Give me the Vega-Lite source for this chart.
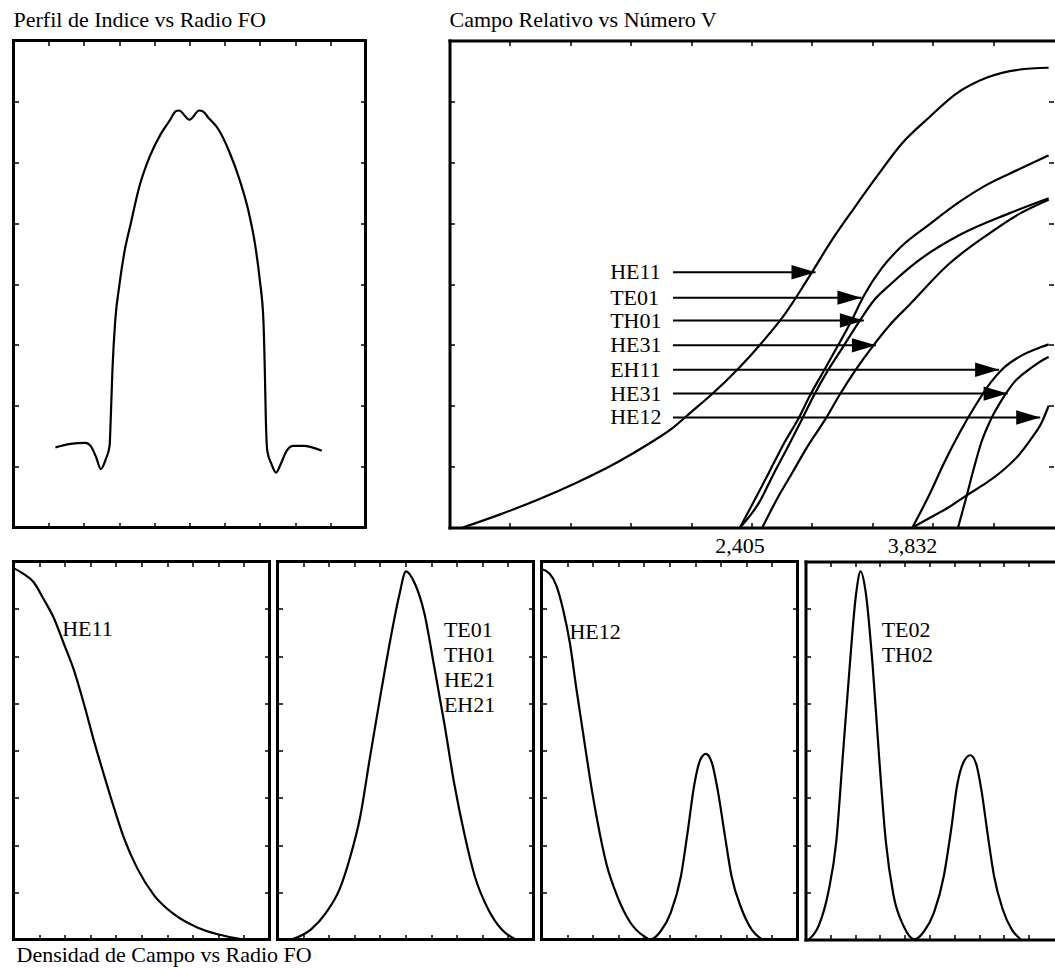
{
  "$schema": "https://vega.github.io/schema/vega-lite/v6.json",
  "background": "white",
  "padding": {"left": 10.5, "top": 6.5, "right": 0, "bottom": 0},
  "config": {
    "font": "Liberation Serif",
    "view": {"stroke": "black", "strokeWidth": 3},
    "axis": {"labels": false, "grid": false, "domain": false, "ticks": true, "tickSize": -5, "tickColor": "black", "tickWidth": 1.5, "domainColor": "black", "domainWidth": 3, "domainCap": "square", "minExtent": 0, "maxExtent": 0},
    "title": {"font": "Liberation Serif", "fontSize": 22, "fontWeight": "normal", "color": "black", "anchor": "start", "frame": "group"},
    "text": {"font": "Liberation Serif", "fontSize": 22, "color": "black"},
    "line": {"color": "black", "strokeWidth": 2.2, "strokeJoin": "round"}
  },
  "datasets": {
    "profile": [
      {"r": -3.81, "n": 1.315}, {"r": -3.43, "n": 1.37}, {"r": -2.95, "n": 1.39}, {"r": -2.81, "n": 1.34}, {"r": -2.65, "n": 1.15}, {"r": -2.52, "n": 0.96}, {"r": -2.38, "n": 1.12}, {"r": -2.27, "n": 1.34}, {"r": -2.24, "n": 1.75}, {"r": -2.19, "n": 2.58}, {"r": -2.11, "n": 3.4}, {"r": -2.0, "n": 3.95}, {"r": -1.86, "n": 4.49}, {"r": -1.67, "n": 4.99}, {"r": -1.43, "n": 5.59}, {"r": -1.14, "n": 6.08}, {"r": -0.81, "n": 6.47}, {"r": -0.57, "n": 6.68}, {"r": -0.38, "n": 6.84}, {"r": -0.3, "n": 6.85}, {"r": 0.0, "n": 6.7}, {"r": 0.28, "n": 6.85}, {"r": 0.36, "n": 6.84}, {"r": 0.57, "n": 6.71}, {"r": 0.81, "n": 6.55}, {"r": 1.14, "n": 6.16}, {"r": 1.43, "n": 5.7}, {"r": 1.67, "n": 5.21}, {"r": 1.86, "n": 4.66}, {"r": 2.0, "n": 4.05}, {"r": 2.1, "n": 3.4}, {"r": 2.14, "n": 2.58}, {"r": 2.17, "n": 1.75}, {"r": 2.21, "n": 1.26}, {"r": 2.33, "n": 1.04}, {"r": 2.46, "n": 0.9}, {"r": 2.59, "n": 1.04}, {"r": 2.76, "n": 1.26}, {"r": 2.95, "n": 1.34}, {"r": 3.24, "n": 1.34}, {"r": 3.76, "n": 1.26}
    ],
    "modes": [
      {"m": "HE11", "v": 0.11, "b": 0}, {"m": "HE11", "v": 0.42, "b": 0.027}, {"m": "HE11", "v": 0.74, "b": 0.058}, {"m": "HE11", "v": 1.06, "b": 0.093}, {"m": "HE11", "v": 1.39, "b": 0.134}, {"m": "HE11", "v": 1.65, "b": 0.172}, {"m": "HE11", "v": 1.84, "b": 0.203}, {"m": "HE11", "v": 2.0, "b": 0.237}, {"m": "HE11", "v": 2.16, "b": 0.271}, {"m": "HE11", "v": 2.39, "b": 0.326}, {"m": "HE11", "v": 2.58, "b": 0.378}, {"m": "HE11", "v": 2.77, "b": 0.436}, {"m": "HE11", "v": 2.97, "b": 0.512}, {"m": "HE11", "v": 3.16, "b": 0.588}, {"m": "HE11", "v": 3.35, "b": 0.656}, {"m": "HE11", "v": 3.55, "b": 0.725}, {"m": "HE11", "v": 3.74, "b": 0.787}, {"m": "HE11", "v": 3.97, "b": 0.842}, {"m": "HE11", "v": 4.19, "b": 0.89}, {"m": "HE11", "v": 4.45, "b": 0.924}, {"m": "HE11", "v": 4.71, "b": 0.94}, {"m": "HE11", "v": 4.96, "b": 0.944},
      {"m": "TE01", "v": 2.405, "b": 0}, {"m": "TE01", "v": 2.516, "b": 0.052}, {"m": "TE01", "v": 2.645, "b": 0.113}, {"m": "TE01", "v": 2.774, "b": 0.175}, {"m": "TE01", "v": 2.887, "b": 0.223}, {"m": "TE01", "v": 2.984, "b": 0.271}, {"m": "TE01", "v": 3.097, "b": 0.321}, {"m": "TE01", "v": 3.21, "b": 0.371}, {"m": "TE01", "v": 3.32, "b": 0.421}, {"m": "TE01", "v": 3.435, "b": 0.478}, {"m": "TE01", "v": 3.58, "b": 0.533}, {"m": "TE01", "v": 3.74, "b": 0.577}, {"m": "TE01", "v": 3.97, "b": 0.622}, {"m": "TE01", "v": 4.23, "b": 0.67}, {"m": "TE01", "v": 4.45, "b": 0.704}, {"m": "TE01", "v": 4.71, "b": 0.735}, {"m": "TE01", "v": 4.96, "b": 0.764},
      {"m": "TH01", "v": 2.405, "b": 0}, {"m": "TH01", "v": 2.565, "b": 0.052}, {"m": "TH01", "v": 2.677, "b": 0.107}, {"m": "TH01", "v": 2.806, "b": 0.168}, {"m": "TH01", "v": 2.919, "b": 0.223}, {"m": "TH01", "v": 3.016, "b": 0.271}, {"m": "TH01", "v": 3.129, "b": 0.321}, {"m": "TH01", "v": 3.258, "b": 0.371}, {"m": "TH01", "v": 3.387, "b": 0.421}, {"m": "TH01", "v": 3.516, "b": 0.467}, {"m": "TH01", "v": 3.645, "b": 0.498}, {"m": "TH01", "v": 3.871, "b": 0.546}, {"m": "TH01", "v": 4.226, "b": 0.601}, {"m": "TH01", "v": 4.613, "b": 0.643}, {"m": "TH01", "v": 4.96, "b": 0.676},
      {"m": "HE31a", "v": 2.59, "b": 0}, {"m": "HE31a", "v": 2.71, "b": 0.058}, {"m": "HE31a", "v": 2.839, "b": 0.113}, {"m": "HE31a", "v": 2.968, "b": 0.168}, {"m": "HE31a", "v": 3.113, "b": 0.223}, {"m": "HE31a", "v": 3.226, "b": 0.271}, {"m": "HE31a", "v": 3.355, "b": 0.321}, {"m": "HE31a", "v": 3.5, "b": 0.371}, {"m": "HE31a", "v": 3.645, "b": 0.416}, {"m": "HE31a", "v": 3.806, "b": 0.457}, {"m": "HE31a", "v": 4.129, "b": 0.54}, {"m": "HE31a", "v": 4.452, "b": 0.601}, {"m": "HE31a", "v": 4.71, "b": 0.643}, {"m": "HE31a", "v": 4.96, "b": 0.673},
      {"m": "EH11", "v": 3.832, "b": 0}, {"m": "EH11", "v": 3.968, "b": 0.065}, {"m": "EH11", "v": 4.097, "b": 0.134}, {"m": "EH11", "v": 4.226, "b": 0.196}, {"m": "EH11", "v": 4.355, "b": 0.251}, {"m": "EH11", "v": 4.484, "b": 0.299}, {"m": "EH11", "v": 4.58, "b": 0.326}, {"m": "EH11", "v": 4.742, "b": 0.354}, {"m": "EH11", "v": 4.903, "b": 0.371}, {"m": "EH11", "v": 4.96, "b": 0.376},
      {"m": "HE31b", "v": 4.21, "b": 0}, {"m": "HE31b", "v": 4.274, "b": 0.058}, {"m": "HE31b", "v": 4.339, "b": 0.12}, {"m": "HE31b", "v": 4.403, "b": 0.175}, {"m": "HE31b", "v": 4.484, "b": 0.223}, {"m": "HE31b", "v": 4.58, "b": 0.265}, {"m": "HE31b", "v": 4.677, "b": 0.299}, {"m": "HE31b", "v": 4.806, "b": 0.326}, {"m": "HE31b", "v": 4.935, "b": 0.347}, {"m": "HE31b", "v": 4.96, "b": 0.35},
      {"m": "HE12", "v": 3.832, "b": 0}, {"m": "HE12", "v": 4.0, "b": 0.023}, {"m": "HE12", "v": 4.129, "b": 0.041}, {"m": "HE12", "v": 4.274, "b": 0.065}, {"m": "HE12", "v": 4.452, "b": 0.093}, {"m": "HE12", "v": 4.58, "b": 0.117}, {"m": "HE12", "v": 4.71, "b": 0.148}, {"m": "HE12", "v": 4.806, "b": 0.179}, {"m": "HE12", "v": 4.903, "b": 0.216}, {"m": "HE12", "v": 4.96, "b": 0.25}
    ],
    "arrows": [
      {"t": "HE11", "b": 0.524, "vt": 1.33, "v0": 1.85, "v1": 3.03},
      {"t": "TE01", "b": 0.472, "vt": 1.33, "v0": 1.85, "v1": 3.41},
      {"t": "TH01", "b": 0.425, "vt": 1.33, "v0": 1.85, "v1": 3.43},
      {"t": "HE31", "b": 0.374, "vt": 1.33, "v0": 1.85, "v1": 3.53},
      {"t": "EH11", "b": 0.324, "vt": 1.33, "v0": 1.85, "v1": 4.55},
      {"t": "HE31", "b": 0.275, "vt": 1.33, "v0": 1.85, "v1": 4.62},
      {"t": "HE12", "b": 0.226, "vt": 1.33, "v0": 1.85, "v1": 4.89}
    ],
    "xlab": [
      {"v": 2.405, "b": 0, "t": "2,405"},
      {"v": 3.832, "b": 0, "t": "3,832"}
    ],
    "dens": [
      {"p": 1, "x": 0, "y": 7.86}, {"p": 1, "x": 0.39, "y": 7.74}, {"p": 1, "x": 0.79, "y": 7.56}, {"p": 1, "x": 1.18, "y": 7.2}, {"p": 1, "x": 1.57, "y": 6.81}, {"p": 1, "x": 1.96, "y": 6.27}, {"p": 1, "x": 2.36, "y": 5.7}, {"p": 1, "x": 2.75, "y": 4.99}, {"p": 1, "x": 3.14, "y": 4.21}, {"p": 1, "x": 3.53, "y": 3.49}, {"p": 1, "x": 3.93, "y": 2.78}, {"p": 1, "x": 4.32, "y": 2.14}, {"p": 1, "x": 4.84, "y": 1.5}, {"p": 1, "x": 5.5, "y": 0.93}, {"p": 1, "x": 6.28, "y": 0.53}, {"p": 1, "x": 7.2, "y": 0.25}, {"p": 1, "x": 7.98, "y": 0.11}, {"p": 1, "x": 8.77, "y": 0.02}, {"p": 1, "x": 9.03, "y": 0},
      {"p": 2, "x": 0.55, "y": 0}, {"p": 2, "x": 1.3, "y": 0.21}, {"p": 2, "x": 1.9, "y": 0.57}, {"p": 2, "x": 2.43, "y": 1.07}, {"p": 2, "x": 2.82, "y": 1.71}, {"p": 2, "x": 3.22, "y": 2.57}, {"p": 2, "x": 3.61, "y": 3.85}, {"p": 2, "x": 4.01, "y": 5.13}, {"p": 2, "x": 4.41, "y": 6.35}, {"p": 2, "x": 4.75, "y": 7.27}, {"p": 2, "x": 5.02, "y": 7.79}, {"p": 2, "x": 5.35, "y": 7.55}, {"p": 2, "x": 5.73, "y": 6.92}, {"p": 2, "x": 6.12, "y": 5.78}, {"p": 2, "x": 6.52, "y": 4.56}, {"p": 2, "x": 6.91, "y": 3.28}, {"p": 2, "x": 7.31, "y": 2.21}, {"p": 2, "x": 7.7, "y": 1.35}, {"p": 2, "x": 8.23, "y": 0.64}, {"p": 2, "x": 8.76, "y": 0.21}, {"p": 2, "x": 9.3, "y": 0},
      {"p": 3, "x": 0, "y": 7.84}, {"p": 3, "x": 0.32, "y": 7.74}, {"p": 3, "x": 0.58, "y": 7.49}, {"p": 3, "x": 0.84, "y": 6.99}, {"p": 3, "x": 1.11, "y": 6.27}, {"p": 3, "x": 1.37, "y": 5.28}, {"p": 3, "x": 1.63, "y": 4.35}, {"p": 3, "x": 1.89, "y": 3.42}, {"p": 3, "x": 2.16, "y": 2.57}, {"p": 3, "x": 2.55, "y": 1.57}, {"p": 3, "x": 2.95, "y": 0.93}, {"p": 3, "x": 3.47, "y": 0.36}, {"p": 3, "x": 4.0, "y": 0.07}, {"p": 3, "x": 4.26, "y": 0}, {"p": 3, "x": 4.66, "y": 0.18}, {"p": 3, "x": 5.05, "y": 0.57}, {"p": 3, "x": 5.45, "y": 1.35}, {"p": 3, "x": 5.71, "y": 2.28}, {"p": 3, "x": 5.97, "y": 3.28}, {"p": 3, "x": 6.2, "y": 3.8}, {"p": 3, "x": 6.42, "y": 3.93}, {"p": 3, "x": 6.65, "y": 3.75}, {"p": 3, "x": 6.89, "y": 3.14}, {"p": 3, "x": 7.16, "y": 2.21}, {"p": 3, "x": 7.42, "y": 1.35}, {"p": 3, "x": 7.82, "y": 0.64}, {"p": 3, "x": 8.21, "y": 0.21}, {"p": 3, "x": 8.61, "y": 0},
      {"p": 4, "x": 0.13, "y": 0}, {"p": 4, "x": 0.53, "y": 0.29}, {"p": 4, "x": 0.92, "y": 1.0}, {"p": 4, "x": 1.24, "y": 2.07}, {"p": 4, "x": 1.5, "y": 3.85}, {"p": 4, "x": 1.76, "y": 5.63}, {"p": 4, "x": 2.03, "y": 7.27}, {"p": 4, "x": 2.22, "y": 7.79}, {"p": 4, "x": 2.43, "y": 7.34}, {"p": 4, "x": 2.71, "y": 5.78}, {"p": 4, "x": 2.97, "y": 3.85}, {"p": 4, "x": 3.24, "y": 2.07}, {"p": 4, "x": 3.55, "y": 0.93}, {"p": 4, "x": 3.95, "y": 0.29}, {"p": 4, "x": 4.39, "y": 0}, {"p": 4, "x": 4.79, "y": 0.18}, {"p": 4, "x": 5.18, "y": 0.57}, {"p": 4, "x": 5.58, "y": 1.35}, {"p": 4, "x": 5.86, "y": 2.28}, {"p": 4, "x": 6.12, "y": 3.28}, {"p": 4, "x": 6.42, "y": 3.8}, {"p": 4, "x": 6.65, "y": 3.9}, {"p": 4, "x": 6.88, "y": 3.72}, {"p": 4, "x": 7.1, "y": 3.14}, {"p": 4, "x": 7.35, "y": 2.21}, {"p": 4, "x": 7.6, "y": 1.35}, {"p": 4, "x": 7.95, "y": 0.64}, {"p": 4, "x": 8.32, "y": 0.21}, {"p": 4, "x": 8.68, "y": 0}
    ],
    "denslab": [
      {"p": 1, "x": 1.9, "y": 6.58, "t": "HE11"},
      {"p": 2, "x": 6.5, "y": 6.55, "t": "TE01"},
      {"p": 2, "x": 6.5, "y": 6.02, "t": "TH01"},
      {"p": 2, "x": 6.5, "y": 5.49, "t": "HE21"},
      {"p": 2, "x": 6.5, "y": 4.96, "t": "EH21"},
      {"p": 3, "x": 1.09, "y": 6.5, "t": "HE12"},
      {"p": 4, "x": 3.07, "y": 6.56, "t": "TE02"},
      {"p": 4, "x": 3.07, "y": 6.03, "t": "TH02"}
    ]
  },
  "spacing": 2,
  "vconcat": [
    {
      "spacing": 84,
      "bounds": "flush",
      "hconcat": [
        {
          "width": 352,
          "height": 487,
          "title": {"text": "Perfil de Indice vs Radio FO", "baseline": "alphabetic", "offset": -9},
          "layer": [
            {
              "data": {"name": "profile"},
              "mark": {"type": "line", "interpolate": "monotone"},
              "encoding": {
                "x": {"field": "r", "type": "quantitative", "scale": {"domain": [-5, 5]}, "axis": {"orient": "bottom", "title": null, "values": [-4, -3, -2, -1, 0, 1, 2, 3, 4]}},
                "y": {"field": "n", "type": "quantitative", "scale": {"domain": [0, 8]}, "axis": {"orient": "left", "title": null, "values": [1, 2, 3, 4, 5, 6, 7]}}
              }
            },
            {
              "data": {"name": "profile"},
              "mark": {"type": "line", "opacity": 0},
              "encoding": {
                "x": {"field": "r", "type": "quantitative", "axis": {"orient": "top", "title": null, "values": [-4, -3, -2, -1, 0, 1, 2, 3, 4]}},
                "y": {"field": "n", "type": "quantitative", "axis": {"orient": "right", "title": null, "values": [1, 2, 3, 4, 5, 6, 7]}}
              }
            }
          ],
          "resolve": {"axis": {"x": "independent", "y": "independent"}}
        },
        {
          "width": 604,
          "height": 487,
          "view": {"stroke": null},
          "title": {"text": "Campo Relativo vs Número V", "baseline": "alphabetic", "offset": -9},
          "layer": [
            {
              "data": {"name": "modes"},
              "mark": {"type": "line", "interpolate": "monotone"},
              "encoding": {
                "x": {"field": "v", "type": "quantitative", "scale": {"domain": [0, 4.96]}, "axis": {"orient": "bottom", "title": null, "domain": true, "values": [0.5, 1, 1.5, 2, 2.5, 3, 3.5, 4, 4.5]}},
                "y": {"field": "b", "type": "quantitative", "scale": {"domain": [0, 1]}, "axis": {"orient": "left", "title": null, "domain": true, "values": [0.125, 0.25, 0.375, 0.5, 0.625, 0.75, 0.875]}},
                "detail": {"field": "m"}
              }
            },
            {
              "data": {"name": "modes"},
              "mark": {"type": "line", "opacity": 0},
              "encoding": {
                "x": {"field": "v", "type": "quantitative", "axis": {"orient": "top", "title": null, "domain": true, "values": [0.5, 1, 1.5, 2, 2.5, 3, 3.5, 4, 4.5]}},
                "y": {"field": "b", "type": "quantitative", "axis": {"orient": "right", "title": null, "domain": false, "values": [0.125, 0.25, 0.375, 0.5, 0.625, 0.75, 0.875]}},
                "detail": {"field": "m"}
              }
            },
            {
              "data": {"name": "arrows"},
              "mark": {"type": "rule", "strokeWidth": 2, "color": "black"},
              "encoding": {
                "x": {"field": "v0", "type": "quantitative", "axis": null},
                "x2": {"field": "v1"},
                "y": {"field": "b", "type": "quantitative", "axis": null}
              }
            },
            {
              "data": {"name": "arrows"},
              "mark": {"type": "point", "shape": "M0,0L-1,-0.3L-1,0.3Z", "size": 2304, "filled": true, "color": "black", "opacity": 1, "strokeWidth": 0},
              "encoding": {
                "x": {"field": "v1", "type": "quantitative", "axis": null},
                "y": {"field": "b", "type": "quantitative", "axis": null}
              }
            },
            {
              "data": {"name": "arrows"},
              "mark": {"type": "text", "align": "left", "baseline": "middle"},
              "encoding": {
                "x": {"field": "vt", "type": "quantitative", "axis": null},
                "y": {"field": "b", "type": "quantitative", "axis": null},
                "text": {"field": "t"}
              }
            },
            {
              "data": {"name": "xlab"},
              "mark": {"type": "text", "align": "center", "baseline": "top", "dy": 8},
              "encoding": {
                "x": {"field": "v", "type": "quantitative", "axis": null},
                "y": {"field": "b", "type": "quantitative", "axis": null},
                "text": {"field": "t"}
              }
            }
          ],
          "resolve": {"axis": {"x": "independent", "y": "independent"}}
        }
      ]
    },
    {
      "spacing": 8,
      "bounds": "flush",
      "hconcat": [
        {
          "width": 256,
          "height": 378,
          "title": {"text": "Densidad de Campo vs Radio FO", "orient": "bottom", "baseline": "top", "offset": 4, "dx": 3, "limit": 0},
          "layer": [
            {
              "data": {"name": "dens"},
              "transform": [{"filter": "datum.p == 1"}],
              "mark": {"type": "line", "interpolate": "monotone"},
              "encoding": {
                "x": {"field": "x", "type": "quantitative", "scale": {"domain": [0, 10]}, "axis": {"orient": "bottom", "title": null, "values": [1, 2, 3, 4, 5, 6, 7, 8, 9]}},
                "y": {"field": "y", "type": "quantitative", "scale": {"domain": [0, 8]}, "axis": {"orient": "left", "title": null, "values": [1, 2, 3, 4, 5, 6, 7]}}
              }
            },
            {
              "data": {"name": "dens"},
              "transform": [{"filter": "datum.p == 1"}],
              "mark": {"type": "line", "opacity": 0},
              "encoding": {
                "x": {"field": "x", "type": "quantitative", "axis": {"orient": "top", "title": null, "values": [1, 2, 3, 4, 5, 6, 7, 8, 9]}},
                "y": {"field": "y", "type": "quantitative", "axis": {"orient": "right", "title": null, "values": [1, 2, 3, 4, 5, 6, 7]}}
              }
            },
            {
              "data": {"name": "denslab"},
              "transform": [{"filter": "datum.p == 1"}],
              "mark": {"type": "text", "align": "left", "baseline": "middle"},
              "encoding": {
                "x": {"field": "x", "type": "quantitative", "axis": null},
                "y": {"field": "y", "type": "quantitative", "axis": null},
                "text": {"field": "t"}
              }
            }
          ],
          "resolve": {"axis": {"x": "independent", "y": "independent"}}
        },
        {
          "width": 256,
          "height": 378,
          "layer": [
            {
              "data": {"name": "dens"},
              "transform": [{"filter": "datum.p == 2"}],
              "mark": {"type": "line", "interpolate": "monotone"},
              "encoding": {
                "x": {"field": "x", "type": "quantitative", "scale": {"domain": [0, 10]}, "axis": {"orient": "bottom", "title": null, "values": [1, 2, 3, 4, 5, 6, 7, 8, 9]}},
                "y": {"field": "y", "type": "quantitative", "scale": {"domain": [0, 8]}, "axis": {"orient": "left", "title": null, "values": [1, 2, 3, 4, 5, 6, 7]}}
              }
            },
            {
              "data": {"name": "dens"},
              "transform": [{"filter": "datum.p == 2"}],
              "mark": {"type": "line", "opacity": 0},
              "encoding": {
                "x": {"field": "x", "type": "quantitative", "axis": {"orient": "top", "title": null, "values": [1, 2, 3, 4, 5, 6, 7, 8, 9]}},
                "y": {"field": "y", "type": "quantitative", "axis": {"orient": "right", "title": null, "values": [1, 2, 3, 4, 5, 6, 7]}}
              }
            },
            {
              "data": {"name": "denslab"},
              "transform": [{"filter": "datum.p == 2"}],
              "mark": {"type": "text", "align": "left", "baseline": "middle"},
              "encoding": {
                "x": {"field": "x", "type": "quantitative", "axis": null},
                "y": {"field": "y", "type": "quantitative", "axis": null},
                "text": {"field": "t"}
              }
            }
          ],
          "resolve": {"axis": {"x": "independent", "y": "independent"}}
        },
        {
          "width": 256,
          "height": 378,
          "layer": [
            {
              "data": {"name": "dens"},
              "transform": [{"filter": "datum.p == 3"}],
              "mark": {"type": "line", "interpolate": "monotone"},
              "encoding": {
                "x": {"field": "x", "type": "quantitative", "scale": {"domain": [0, 10]}, "axis": {"orient": "bottom", "title": null, "values": [1, 2, 3, 4, 5, 6, 7, 8, 9]}},
                "y": {"field": "y", "type": "quantitative", "scale": {"domain": [0, 8]}, "axis": {"orient": "left", "title": null, "values": [1, 2, 3, 4, 5, 6, 7]}}
              }
            },
            {
              "data": {"name": "dens"},
              "transform": [{"filter": "datum.p == 3"}],
              "mark": {"type": "line", "opacity": 0},
              "encoding": {
                "x": {"field": "x", "type": "quantitative", "axis": {"orient": "top", "title": null, "values": [1, 2, 3, 4, 5, 6, 7, 8, 9]}},
                "y": {"field": "y", "type": "quantitative", "axis": {"orient": "right", "title": null, "values": [1, 2, 3, 4, 5, 6, 7]}}
              }
            },
            {
              "data": {"name": "denslab"},
              "transform": [{"filter": "datum.p == 3"}],
              "mark": {"type": "text", "align": "left", "baseline": "middle"},
              "encoding": {
                "x": {"field": "x", "type": "quantitative", "axis": null},
                "y": {"field": "y", "type": "quantitative", "axis": null},
                "text": {"field": "t"}
              }
            }
          ],
          "resolve": {"axis": {"x": "independent", "y": "independent"}}
        },
        {
          "width": 248,
          "height": 378,
          "view": {"stroke": null},
          "layer": [
            {
              "data": {"name": "dens"},
              "transform": [{"filter": "datum.p == 4"}],
              "mark": {"type": "line", "interpolate": "monotone"},
              "encoding": {
                "x": {"field": "x", "type": "quantitative", "scale": {"domain": [0, 9.69]}, "axis": {"orient": "bottom", "title": null, "domain": true, "values": [1, 2, 3, 4, 5, 6, 7, 8, 9]}},
                "y": {"field": "y", "type": "quantitative", "scale": {"domain": [0, 8]}, "axis": {"orient": "left", "title": null, "domain": true, "values": [1, 2, 3, 4, 5, 6, 7]}}
              }
            },
            {
              "data": {"name": "dens"},
              "transform": [{"filter": "datum.p == 4"}],
              "mark": {"type": "line", "opacity": 0},
              "encoding": {
                "x": {"field": "x", "type": "quantitative", "axis": {"orient": "top", "title": null, "domain": true, "values": [1, 2, 3, 4, 5, 6, 7, 8, 9]}},
                "y": {"field": "y", "type": "quantitative", "axis": null}
              }
            },
            {
              "data": {"name": "denslab"},
              "transform": [{"filter": "datum.p == 4"}],
              "mark": {"type": "text", "align": "left", "baseline": "middle"},
              "encoding": {
                "x": {"field": "x", "type": "quantitative", "axis": null},
                "y": {"field": "y", "type": "quantitative", "axis": null},
                "text": {"field": "t"}
              }
            }
          ],
          "resolve": {"axis": {"x": "independent", "y": "independent"}}
        }
      ]
    }
  ]
}
